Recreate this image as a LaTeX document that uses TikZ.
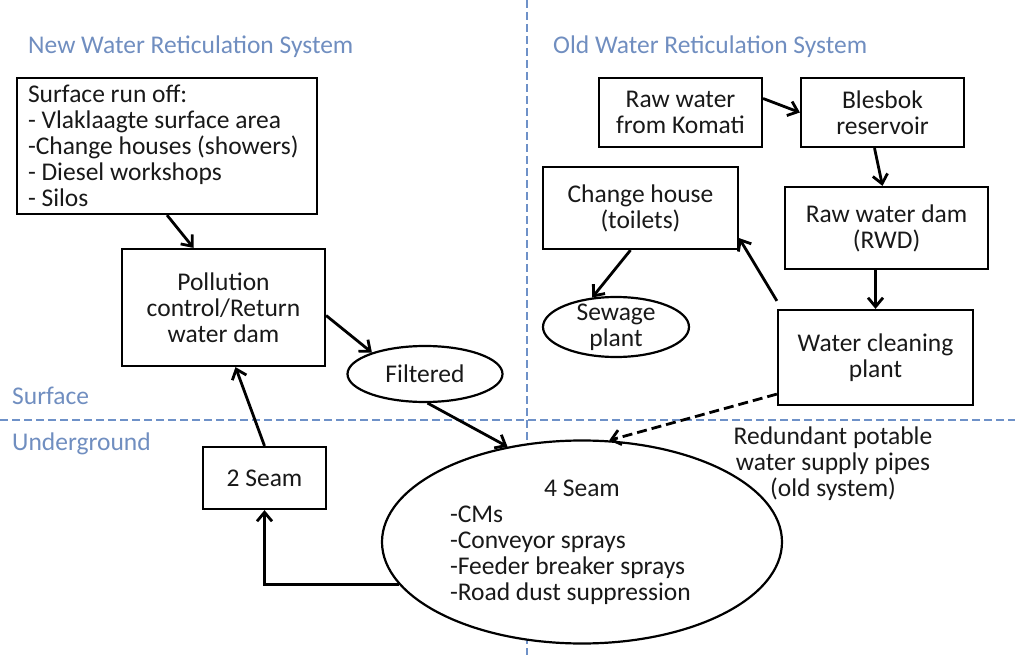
\documentclass[tikz,border=0pt]{standalone}
\usepackage{fontspec}
\setmainfont{Carlito}
\usetikzlibrary{positioning,calc,shapes.geometric,arrows.meta}

\definecolor{zonecol}{RGB}{112,142,192}
\definecolor{linecol}{RGB}{110,145,200}

\begin{document}
\begin{tikzpicture}[x=1pt, y=-1pt,
    every node/.style={font=\fontsize{25.5}{26}\selectfont, text=black!90},
    box/.style={draw = black, line width=2.2pt, rectangle, align=center, inner sep=0pt, fill=white},
    oval/.style={draw = black, line width=2.2pt, ellipse, align=center, inner sep=0pt, fill=white},
    flow/.style={line width=2.8pt, -{Straight Barb[length=9pt,width=15pt,line width=2.8pt]}},
    zone/.style={text=zonecol, anchor=west, inner sep=0pt},
    divider/.style={draw=linecol, line width=1.5pt, dash pattern=on 8pt off 4pt}]

        \useasboundingbox (0,0) rectangle (1015,655);

        %dividers
        \draw[divider] (527,0) -- (527,655);
        \draw[divider] (0,420) -- (1015,420);

        %zone labels
        \node[zone] (newtitle) at (28,47) {New Water Reticulation System};
        \node[zone] (oldtitle) at (553,47) {Old Water Reticulation System};
        \node[zone] (surface) at (12,396) {Surface};
        \node[zone] (underground) at (12,444) {Underground};

        %surface run off
        \node[box, minimum width=300pt, minimum height=136pt,
            text width=278pt, align=flush left] (runoff) at (167,146)
            {Surface run off:\\- Vlaklaagte surface area\\-Change houses (showers)\\- Diesel workshops\\- Silos};

        %pollution control dam
        \node[box, minimum width=203pt, minimum height=117pt] (pollution) at (223.5,307.5)
            {Pollution\\control/Return\\water dam};

        %filtered
        \node[oval, minimum width=155pt, minimum height=56pt] (filtered) at (425,374) {Filtered};

        %2 seam
        \node[box, minimum width=123pt, minimum height=62pt] (seamtwo) at (264.5,478) {2 Seam};

        %4 seam
        \node[oval, minimum width=400pt, minimum height=203pt,
            text width=264pt, align=flush left] (seamfour) at (582,542)
            {\makebox[\linewidth]{4 Seam}\\-CMs\\-Conveyor sprays\\-Feeder breaker sprays\\-Road dust suppression};

        %old system
        \node[box, minimum width=163pt, minimum height=69pt] (rawwater) at (680.5,112.5) {Raw water\\from Komati};
        \node[box, minimum width=163pt, minimum height=69pt] (blesbok) at (882.5,112.5) {Blesbok\\reservoir};
        \node[box, minimum width=203pt, minimum height=82pt] (rwd) at (886.5,228) {Raw water dam\\(RWD)};
        \node[box, minimum width=195pt, minimum height=95pt] (cleaning) at (875.5,357.5) {Water cleaning\\plant};
        \node[box, minimum width=195pt, minimum height=82pt] (changehouse) at (640.5,208) {Change house\\(toilets)};
        \node[oval, inner ysep=-7pt, minimum width=146pt, minimum height=60pt] (sewage) at (616,327) {Sewage\\plant};

        %redundant pipes
        \node[align=center] (redundant) at (833,464) {Redundant potable\\water supply pipes\\(old system)};

        \path[flow]
            %new system
            (runoff.south) edge ($(pollution.north)+(-30,0)$)
            ($(pollution.east)+(0,8)$) edge (filtered.158)
            (filtered.-85) edge (seamfour.128)
            (seamtwo.north) edge ($(pollution.south)+(12,0)$)

            %old system
            ($(rawwater.east)+(0,-14)$) edge (blesbok.west)
            ($(blesbok.south)+(-8,0)$) edge ($(rwd.north)+(-4,0)$)
            (cleaning.north |- rwd.south) edge (cleaning.north)
            ($(cleaning.north west)+(0,-8)$) edge ($(changehouse.south east)+(0,-12)$)
            ($(changehouse.south)+(-10,0)$) edge (sewage.129)
            ;

        \draw[flow] (seamfour.193) -| (seamtwo.south);
        \draw[flow, dash pattern=on 10pt off 5pt] ($(cleaning.south west)+(0,-12)$) -- (seamfour.75);

\end{tikzpicture}
\end{document}
